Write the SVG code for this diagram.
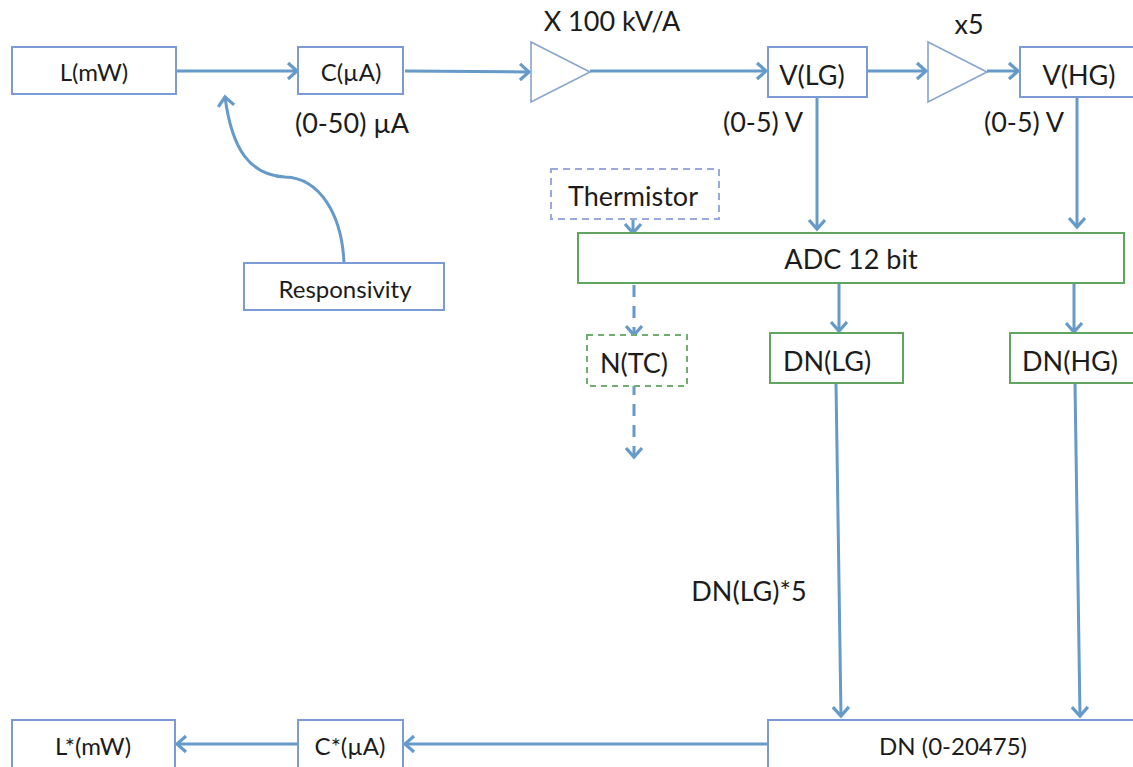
<svg xmlns="http://www.w3.org/2000/svg" width="1133" height="767" viewBox="0 0 1133 767">
<style>
text{font-family:"Lato","Liberation Sans",sans-serif;fill:#1c1c1c;text-anchor:middle}
.b{fill:#fff;stroke:#7c9bd6;stroke-width:2}
.g{fill:#fff;stroke:#5fa55f;stroke-width:2}
.bd{fill:#fff;stroke:#9aa8e0;stroke-width:2;stroke-dasharray:7 5}
.gd{fill:#fff;stroke:#6fae6f;stroke-width:2;stroke-dasharray:6 5}
.t{fill:#fff;stroke:#86a5cf;stroke-width:1.6}
.c{fill:none;stroke:#659ac9;stroke-width:3}
.d{stroke-dasharray:12 9}
.s1{font-size:24px}.s2{font-size:27px}
</style>
<defs>
<marker id="a" markerUnits="userSpaceOnUse" markerWidth="18" markerHeight="20" refX="15" refY="10" orient="auto"><path d="M6 2L15 10L6 18" fill="none" stroke="#659ac9" stroke-width="3.2"/></marker>
</defs>
<g id="connectors">
<path class="c" d="M176 71H297" marker-end="url(#a)"/>
<path class="c" d="M405 71L529 72" marker-end="url(#a)"/>
<path class="c" d="M590 71H766" marker-end="url(#a)"/>
<path class="c" d="M868 71H926" marker-end="url(#a)"/>
<path class="c" d="M987 71H1018" marker-end="url(#a)"/>
<path class="c" d="M344 263C342 215 320 178 285 177C250 175 232 150 225 97" marker-end="url(#a)"/>
<path class="c" d="M817 97V229" marker-end="url(#a)"/>
<path class="c" d="M1077 97V227" marker-end="url(#a)"/>
<path class="c" d="M633 219V233" marker-end="url(#a)"/>
<path class="c d" d="M634 285V335" marker-end="url(#a)"/>
<path class="c d" d="M634 383V457" marker-end="url(#a)"/>
<path class="c" d="M839 283V331" marker-end="url(#a)"/>
<path class="c" d="M1074 283V332" marker-end="url(#a)"/>
<path class="c" d="M836 383L841 716" marker-end="url(#a)"/>
<path class="c" d="M1075 383L1080 716" marker-end="url(#a)"/>
<path class="c" d="M768 744H405" marker-end="url(#a)"/>
<path class="c" d="M298 744H177" marker-end="url(#a)"/>
</g>
<g id="n-l"><rect class="b" x="12" y="47" width="164" height="47"/><text class="s1" x="94" y="81">L(mW)</text></g>
<g id="n-c"><rect class="b" x="298" y="47" width="105" height="47"/><text class="s1" x="351" y="81">C(µA)</text></g>
<g id="n-resp"><rect class="b" x="244" y="263" width="200" height="47"/><text class="s1" x="345" y="298">Responsivity</text></g>
<g id="n-amp1"><path class="t" d="M531 42L590 72L531 102Z"/></g>
<g id="n-amp2"><path class="t" d="M928 42L987 72L928 102Z"/></g>
<g id="n-vlg"><rect class="b" x="768" y="47" width="99" height="50"/><text class="s2" x="812" y="85">V(LG)</text></g>
<g id="n-vhg"><rect class="b" x="1020" y="47" width="120" height="50"/><text class="s2" x="1079" y="85">V(HG)</text></g>
<g id="n-therm"><rect class="bd" x="551" y="169" width="168" height="50"/><text class="s2" x="633" y="206">Thermistor</text></g>
<g id="n-adc"><rect class="g" x="578" y="233" width="546" height="50"/><text class="s2" x="851" y="269">ADC 12 bit</text></g>
<g id="n-ntc"><rect class="gd" x="587" y="335" width="100" height="51"/><text class="s2" x="634" y="373">N(TC)</text></g>
<g id="n-dnlg"><rect class="g" x="770" y="333" width="133" height="50"/><text class="s2" x="827" y="371">DN(LG)</text></g>
<g id="n-dnhg"><rect class="g" x="1010" y="333" width="130" height="50"/><text class="s2" x="1070" y="371">DN(HG)</text></g>
<g id="n-dn"><rect class="b" x="768" y="720" width="380" height="60"/><text class="s1" x="953" y="755">DN (0-20475)</text></g>
<g id="n-cs"><rect class="b" x="298" y="720" width="105" height="60"/><text class="s1" x="350" y="755">C*(µA)</text></g>
<g id="n-ls"><rect class="b" x="12" y="720" width="163" height="60"/><text class="s1" x="93" y="755">L*(mW)</text></g>
<g id="labels">
<text class="s2" x="352" y="133">(0-50) µA</text>
<text class="s2" x="612" y="31">X 100 kV/A</text>
<text class="s2" x="969" y="34">x5</text>
<text class="s2" x="763" y="132">(0-5) V</text>
<text class="s2" x="1024" y="132">(0-5) V</text>
<text class="s2" x="749" y="601">DN(LG)*5</text>
</g>
</svg>
